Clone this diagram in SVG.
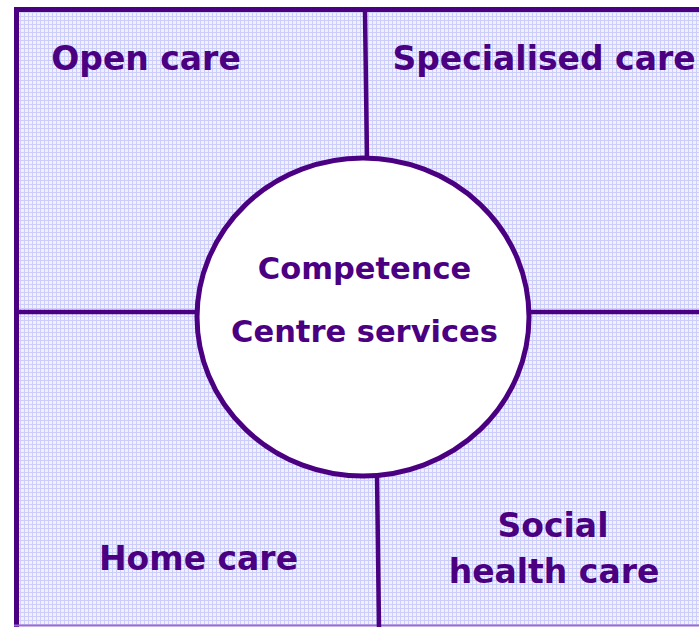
<svg xmlns="http://www.w3.org/2000/svg" width="699" height="627" viewBox="0 0 699 627">
<defs>
<pattern id="grid" width="4" height="4" patternUnits="userSpaceOnUse">
<rect width="4" height="4" fill="#F0F0FF"/>
<rect x="0" y="0" width="1" height="4" fill="#CDCDFA"/>
<rect x="0" y="0" width="4" height="1" fill="#CDCDFA"/>
</pattern>
<style>
.line{stroke:#4B0082;stroke-width:4.5;fill:none}
.lbl{font-family:"DejaVu Sans",sans-serif;font-weight:bold;fill:#4B0082;text-anchor:middle}
.big{font-size:33px}
.mid{font-size:30.5px}
</style>
</defs>
<rect width="699" height="627" fill="#FFFFFF"/>
<g id="background">
<rect x="16.5" y="9.5" width="700" height="616" fill="url(#grid)"/>
<line x1="16.5" y1="7" x2="16.5" y2="627" stroke="#4B0082" stroke-width="5"/>
<line x1="14" y1="9.5" x2="699" y2="9.5" stroke="#4B0082" stroke-width="5"/>
<line x1="14" y1="625.5" x2="699" y2="625.5" stroke="#9A6BD0" stroke-width="2"/>
</g>
<g id="connectors">
<line class="line" x1="365" y1="12" x2="367" y2="160"/>
<line class="line" x1="17" y1="312" x2="199" y2="312"/>
<line class="line" x1="527" y1="312" x2="699" y2="312"/>
<line class="line" x1="377" y1="474" x2="379" y2="627"/>
</g>
<g id="centre">
<ellipse cx="363" cy="317" rx="166" ry="159" fill="#FFFFFF" stroke="#4B0082" stroke-width="5"/>
<text class="lbl mid" x="364.5" y="279">Competence</text>
<text class="lbl mid" x="364.5" y="342">Centre services</text>
</g>
<g id="open-care"><text class="lbl big" x="146" y="70">Open care</text></g>
<g id="specialised-care"><text class="lbl big" x="544" y="70">Specialised care</text></g>
<g id="home-care"><text class="lbl big" x="198.5" y="570">Home care</text></g>
<g id="social-health-care">
<text class="lbl big" x="553" y="537">Social</text>
<text class="lbl big" x="554" y="583">health care</text>
</g>
</svg>
